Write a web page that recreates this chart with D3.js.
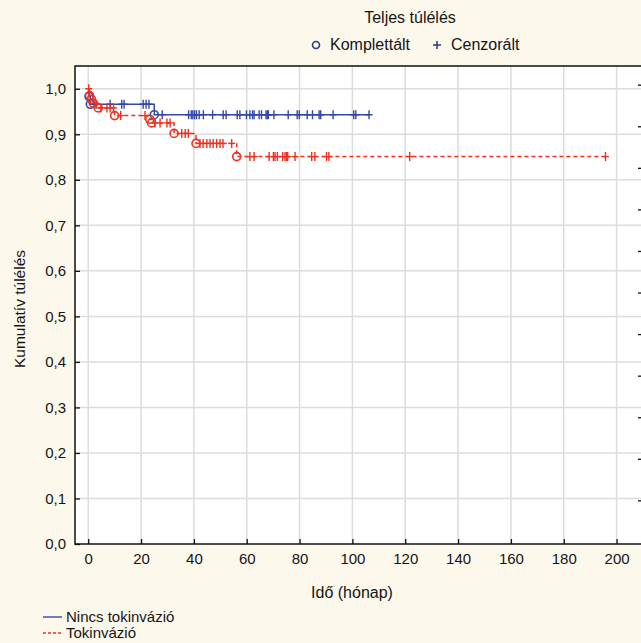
<!DOCTYPE html>
<html lang="hu">
<head>
<meta charset="UTF-8">
<title>Kumulatív túlélés</title>
<script src="https://d3js.org/d3.v7.min.js"></script>
<style>
  body { margin: 0; background: #fcf8ec; }
  text { font-family: "Liberation Sans", Arial, sans-serif; fill: #151515; }
</style>
</head>
<body>
<svg width="641" height="643"></svg>
<script>
// event times (month) and survival after each event
const blueEventT = [0.3, 0.8, 25];
const blueEventS = [0.983, 0.966, 0.943];
const blueCensT = [3, 8.3, 12.7, 13.6, 20.8, 21.9, 23, 28, 38, 39, 39.6, 40.3, 41, 42,
    43.6, 47.1, 51.1, 52.2, 56.4, 57.4, 59.9, 61.2, 62.2, 62.8, 64.7, 65.6, 67.3, 67.8,
    68.2, 70.3, 75.7, 79.1, 79.9, 82.9, 84.9, 87.4, 88.0, 92.7, 100.5, 101.3, 106.3];
const blueEnd = 106.3;

const redEventT = [0.5, 1.2, 2, 3.8, 10, 23.3, 24, 32.5, 40.8, 56.2];
const redEventS = [0.985, 0.977, 0.968, 0.958, 0.941, 0.933, 0.925, 0.902, 0.88, 0.851];
const redCensT = [0.2, 4.8, 7.1, 8.3, 9.6, 12.3, 21.5, 25.3, 27.2, 29.8, 31, 35.4, 36.7, 37.9,
    42.3, 43.5, 44.9, 46.1, 47.3, 48.6, 49.9, 51.0, 54.3, 61.2, 62.8, 68.5, 70.1, 70.7,
    71.6, 73.6, 74.5, 75.1, 75.5, 78.3, 84.6, 85.8, 90.2, 91.1, 121.7, 195.8];
const redEnd = 195.8;

const xTicks = [0, 20, 40, 60, 80, 100, 120, 140, 160, 180, 200];
const yTicks = [0, 0.1, 0.2, 0.3, 0.4, 0.5, 0.6, 0.7, 0.8, 0.9, 1.0];
const rightTicks = [1, 2, 3, 4, 5, 6, 7, 8, 9, 10, 11];

const blue = "#3448a8";
const red = "#f0301f";

const svg = d3.select("svg");

const x = d3.scaleLinear().domain([-5, 210]).range([75, 643]);
const y = d3.scaleLinear().domain([0, 1.05]).range([544, 66]);
const y2 = d3.scaleLinear().domain([-0.05, 11.45]).range([544, 66]);

// plot background
svg.append("rect")
    .attr("x", x(-5)).attr("y", y(1.05))
    .attr("width", x(210) - x(-5)).attr("height", y(0) - y(1.05))
    .attr("fill", "#fff");

// grid
svg.append("g").selectAll("line")
    .data(xTicks)
    .join("line")
    .attr("x1", d => x(d)).attr("x2", d => x(d))
    .attr("y1", y(0)).attr("y2", y(1.05))
    .attr("stroke", "#dcdcdc").attr("stroke-width", 1.5);
svg.append("g").selectAll("line")
    .data(yTicks.slice(1))
    .join("line")
    .attr("x1", x(-5)).attr("x2", x(210))
    .attr("y1", d => y(d)).attr("y2", d => y(d))
    .attr("stroke", "#dcdcdc").attr("stroke-width", 1.5);

// axes
const xAxis = svg.append("g")
    .attr("transform", `translate(0,${y(0)})`)
    .call(d3.axisBottom(x).tickValues(xTicks).tickSize(-5).tickPadding(9));
const yAxis = svg.append("g")
    .attr("transform", `translate(${x(-5)},0)`)
    .call(d3.axisLeft(y).tickValues(yTicks).tickSize(-5).tickPadding(9)
        .tickFormat(d => d3.format(".1f")(d).replace(".", ",")));
const rAxis = svg.append("g")
    .attr("transform", `translate(${x(210)},0)`)
    .call(d3.axisRight(y2).tickValues(rightTicks).tickSize(-5).tickFormat(""));

[xAxis, yAxis, rAxis].forEach(g => {
    g.select(".domain").remove();
    g.selectAll("line").attr("stroke", "#111").attr("stroke-width", 1.3);
    g.selectAll("text").attr("font-size", 15).attr("fill", "#151515")
        .style("font-family", '"Liberation Sans", Arial, sans-serif');
});

// frame
svg.append("rect")
    .attr("x", x(-5)).attr("y", y(1.05))
    .attr("width", x(210) - x(-5)).attr("height", y(0) - y(1.05))
    .attr("fill", "none").attr("stroke", "#111").attr("stroke-width", 1.5);

// Kaplan-Meier curves
function steps(evT, evS, endT) {
    const pts = [[0, 1]];
    let s = 1;
    evT.forEach((t, i) => {
        pts.push([t, s]);
        s = evS[i];
        pts.push([t, s]);
    });
    pts.push([endT, s]);
    return pts;
}
function survAt(evT, evS, t) {
    let s = 1;
    evT.forEach((e, i) => { if (e <= t) s = evS[i]; });
    return s;
}
const line = d3.line().x(d => x(d[0])).y(d => y(d[1]));

function drawGroup(evT, evS, censT, endT, color, dash) {
    const g = svg.append("g");
    g.append("path")
        .attr("d", line(steps(evT, evS, endT)))
        .attr("fill", "none")
        .attr("stroke", color)
        .attr("stroke-width", 1.5)
        .attr("stroke-dasharray", dash);
    g.selectAll("path.cens")
        .data(censT)
        .join("path")
        .attr("class", "cens")
        .attr("transform", d => `translate(${x(d)},${y(survAt(evT, evS, d))})`)
        .attr("d", "M-3.5,0H3.5M0,-4.5V4.5")
        .attr("stroke", color)
        .attr("stroke-width", 1.4);
    g.selectAll("circle")
        .data(evT)
        .join("circle")
        .attr("cx", d => x(d))
        .attr("cy", (d, i) => y(evS[i]))
        .attr("r", 4)
        .attr("fill", "none")
        .attr("stroke", color)
        .attr("stroke-width", 1.6);
}
drawGroup(blueEventT, blueEventS, blueCensT, blueEnd, blue, null);
drawGroup(redEventT, redEventS, redCensT, redEnd, red, "4,3");

// titles
svg.append("text")
    .attr("x", 352).attr("y", 598)
    .attr("text-anchor", "middle").attr("font-size", 16)
    .text("Idő (hónap)");
svg.append("text")
    .attr("transform", "translate(25,309) rotate(-90)")
    .attr("text-anchor", "middle").attr("font-size", 15.5)
    .text("Kumulatív túlélés");

// top legend
svg.append("text")
    .attr("x", 410).attr("y", 23)
    .attr("text-anchor", "middle").attr("font-size", 16)
    .text("Teljes túlélés");
svg.append("circle")
    .attr("cx", 316).attr("cy", 45).attr("r", 3.5)
    .attr("fill", "none").attr("stroke", "#2a3a90").attr("stroke-width", 1.6);
svg.append("text")
    .attr("x", 330).attr("y", 50).attr("font-size", 16)
    .text("Komplettált");
svg.append("path")
    .attr("transform", "translate(437,45)")
    .attr("d", "M-4,0H4M0,-4V4")
    .attr("stroke", "#2a3a90").attr("stroke-width", 1.5);
svg.append("text")
    .attr("x", 451).attr("y", 50).attr("font-size", 16)
    .text("Cenzorált");

// bottom legend
const legendItems = ["Nincs tokinvázió", "Tokinvázió"];
const legendColors = [blue, red];
const legendDash = [null, "3,2"];
const lg = svg.append("g");
legendItems.forEach((name, i) => {
    const ly = 617 + i * 16;
    lg.append("line")
        .attr("x1", 43).attr("x2", 62).attr("y1", ly).attr("y2", ly)
        .attr("stroke", legendColors[i]).attr("stroke-width", 1.4)
        .attr("stroke-dasharray", legendDash[i]);
    lg.append("text")
        .attr("x", 66).attr("y", ly + 5).attr("font-size", 15)
        .text(name);
});
</script>
</body>
</html>
